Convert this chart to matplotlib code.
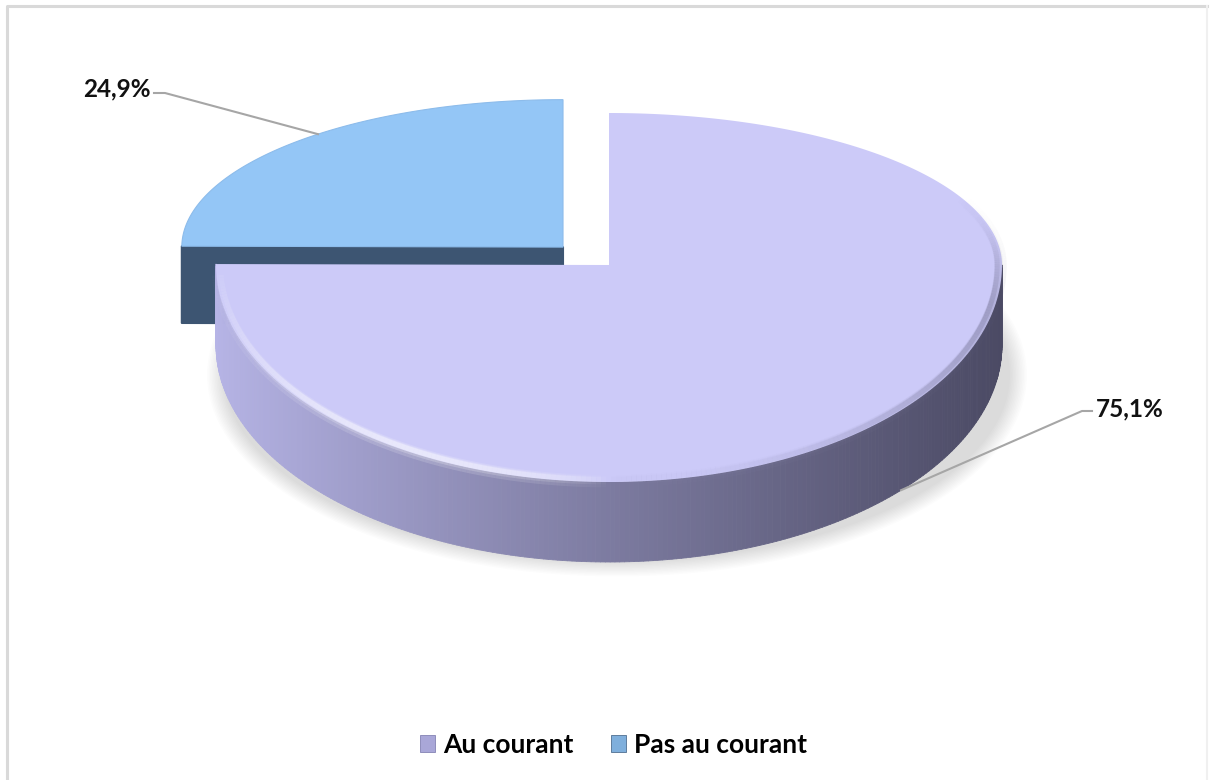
import numpy as np
import matplotlib.pyplot as plt
from matplotlib.patches import Polygon, Patch, Ellipse, Rectangle
from matplotlib.collections import PolyCollection, LineCollection
from matplotlib.colors import to_rgb

labels = ["Au courant", "Pas au courant"]
values = [75.1, 24.9]
pct_text = ["75,1%", "24,9%"]

top_cols = ["#CCCAF8", "#94C6F6"]
cut_cols = ["#9E9CCF", "#3D5572"]
wall_left, wall_right = "#B6B4E6", "#4B4A64"

W, H = 1210, 780
cx, cy = 609, 265          # pie centre (px)
a, b_top, b_bot = 393, 152, 217
depth = 80
explode = [0.0, 0.166]
scale = [1.0, 0.97]


def proj(th, r=1.0, z=0.0, c=(cx, cy), s=1.0):
    t = np.radians(th)
    bb = np.where(np.cos(t) > 0, b_top, b_bot)
    x = c[0] + s * a * r * np.sin(t)
    y = c[1] - s * bb * r * np.cos(t) + z
    return x, y


def mix(c1, c2, f):
    c1, c2 = np.array(to_rgb(c1)), np.array(to_rgb(c2))
    return tuple(c1 + (c2 - c1) * f)


fig = plt.figure(figsize=(W / 100, H / 100), dpi=100)
ax = fig.add_axes([0, 0, 1, 1])
ax.set_xlim(0, W)
ax.set_ylim(H, 0)
ax.axis("off")

# chart frame
ax.plot([7, 7, 1207], [780, 6, 6], color="#D9D9D9", lw=2.2)
ax.plot([1207, 1207], [6, 780], color="#F0F0F0", lw=1.5)

angles = np.concatenate([[0], np.cumsum(values) / sum(values) * 360])

# soft shadow under the main slice, kept below the pie centre
clip = Rectangle((0, cy + 20), W, H, transform=ax.transData)
for k in range(12):
    f = k / 11
    e = Ellipse((cx + 8, cy + depth + 30), 2 * a + 34 - 34 * f,
                b_top + b_bot + 34 - 30 * f, color="#000000",
                alpha=0.011, lw=0, zorder=1)
    ax.add_patch(e)
    e.set_clip_path(clip)

# exploded slice (Pas au courant)
i = 1
th0, th1 = angles[i], angles[i + 1]
mid = (th0 + th1) / 2
ex, ey = proj(mid, explode[i])
c1 = (ex, ey)
d1 = depth * 0.96
ts = np.linspace(th0, th1, 120)
px, py = proj(ts, 1, 0, c1, scale[i])
rx, ry = proj(th0, 1, 0, c1, scale[i])
ax.add_patch(Polygon([(c1[0], c1[1]), (rx, ry), (rx, ry + d1), (c1[0], c1[1] + d1)],
                     closed=True, fc=cut_cols[i], ec=cut_cols[i], lw=1.5,
                     joinstyle="round", zorder=2))
ax.add_patch(Polygon(np.column_stack([np.r_[c1[0], px], np.r_[c1[1], py]]),
                     closed=True, fc=top_cols[i], ec="#8DBCEB", lw=0.8, zorder=3))

# main slice (Au courant): outer wall with horizontal shading
i = 0
th0, th1 = angles[i], angles[i + 1]
tw = np.linspace(90, th1, 260)
wx, wy = proj(tw)
quads, cols = [], []
for k in range(len(tw) - 1):
    quads.append([(wx[k], wy[k]), (wx[k + 1], wy[k + 1]),
                  (wx[k + 1], wy[k + 1] + depth), (wx[k], wy[k] + depth)])
    f = (0.5 * (wx[k] + wx[k + 1]) - (cx - a)) / (2 * a)
    cols.append(mix(wall_left, wall_right, np.clip(f, 0, 1) ** 0.9))
ax.add_collection(PolyCollection(quads, facecolors=cols, edgecolors=cols,
                                 linewidths=0.6, zorder=4))

# top face
ts = np.linspace(th0, th1, 300)
px, py = proj(ts)
ax.add_patch(Polygon(np.column_stack([np.r_[cx, px], np.r_[cy, py]]),
                     closed=True, fc=top_cols[i], ec="none", zorder=5))

# soft bevel along the rim: light on the lower left, dark on the right
tb = np.linspace(60, th1 - 3, 280)
fade = np.clip((tb - 60) / 40, 0, 1) ** 2
for r, lw, al in [(0.996, 9, 0.10), (0.992, 6, 0.14), (0.988, 3.5, 0.22)]:
    bx, by = proj(tb, r)
    segs = [[(bx[k], by[k]), (bx[k + 1], by[k + 1])] for k in range(len(tb) - 1)]
    bc = []
    for k in range(len(tb) - 1):
        f = (bx[k] - (cx - a)) / (2 * a)
        if f < 0.5:
            bc.append((1, 1, 1, al * 1.6 * np.sin(np.pi * f / 0.5) ** 0.6))
        else:
            g = (f - 0.5) / 0.5
            bc.append(mix("#CCCAF8", "#5A5976", g) + (al * g * fade[k],))
    ax.add_collection(LineCollection(segs, colors=bc, linewidths=lw,
                                     capstyle="butt", zorder=6))

# value labels with leader lines
lead = "#A6A6A6"
lx, ly = proj(132, 1, depth)
ax.plot([lx, 1082, 1092], [ly, 411, 411], color=lead, lw=1.5, zorder=7)
ax.text(1096, 409, pct_text[0], fontsize=17.5, fontweight="bold",
        family="Lato", va="center", ha="left", color="#111111")

bx0, by0 = proj(320, 1, 0, c1, scale[1])
ax.plot([bx0, 165, 154], [by0, 93, 93], color=lead, lw=1.5, zorder=7)
ax.text(151, 89, pct_text[1], fontsize=17.5, fontweight="bold",
        family="Lato", va="center", ha="right", color="#111111")

handles = [Patch(fc="#A9A7D8", ec="#8482B4", lw=0.6),
           Patch(fc="#7FAFDC", ec="#4F6F90", lw=0.6)]
leg = fig.legend(handles, labels, loc="center", bbox_to_anchor=(0.507, 0.045),
                 ncol=2, frameon=False, handlelength=0.6, handleheight=0.6,
                 handletextpad=0.3, columnspacing=1.4,
                 prop={"family": "Lato", "weight": "bold", "size": 19})

fig.savefig("out.png", dpi=100, facecolor="white")
